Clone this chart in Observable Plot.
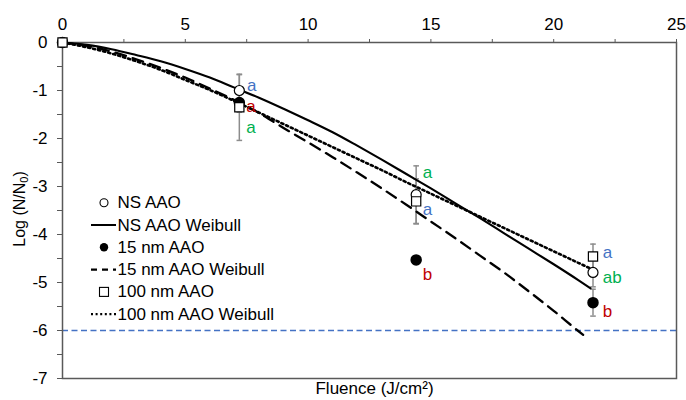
<!DOCTYPE html>
<html>
<head>
<meta charset="utf-8">
<script src="https://cdn.jsdelivr.net/npm/d3@7"></script>
<script src="https://cdn.jsdelivr.net/npm/@observablehq/plot@0.6"></script>
<style>
  body { margin: 0; background: #fff; }
  #chart { position: relative; width: 686px; height: 400px; }
</style>
</head>
<body>
<div id="chart"></div>
<script>
// ---- measured data ----
const fluence = [0, 7.2, 14.4, 21.6];
const nsMean = [0, -1.0, -3.17, -4.79];
const nsErr = [0, 0.33, 0.6, 0.3];
const nm15Mean = [0, -1.25, -4.53, -5.42];
const nm15Err = [0, 0.2, 0.08, 0.28];
const nm100Mean = [0, -1.35, -3.31, -4.46];
const nm100Err = [0, 0.69, 0.47, 0.26];

// Weibull fit curves
const nsFitF = [0,1,2,3,4,5,6,7,8,9,10,11,12,13,14,15,16,17,18,19,20,21,21.5];
const nsFitY = [0,-0.05,-0.14,-0.26,-0.39,-0.55,-0.73,-0.94,-1.15,-1.38,-1.62,-1.87,-2.15,-2.44,-2.74,-3.04,-3.35,-3.66,-3.98,-4.30,-4.62,-4.95,-5.12];
const nm15FitF = [0,1,2,3,4,5,6,7,8,9,10,11,12,13,14,15,16,17,18,19,20,21,21.2];
const nm15FitY = [0,-0.07,-0.19,-0.35,-0.53,-0.73,-0.96,-1.20,-1.47,-1.78,-2.08,-2.39,-2.71,-3.04,-3.38,-3.73,-4.08,-4.44,-4.80,-5.19,-5.59,-6.01,-6.09];
const nm100FitF = [0,1,2,3,4,5,6,7,8,9,10,11,12,13,14,15,16,17,18,19,20,21,21.46];
const nm100FitY = [0,-0.10,-0.23,-0.39,-0.57,-0.78,-0.99,-1.22,-1.46,-1.70,-1.94,-2.18,-2.42,-2.66,-2.91,-3.15,-3.39,-3.63,-3.87,-4.11,-4.35,-4.59,-4.70];

const detectionLimit = -6;

// significance letters
const letterText = ["a","a","a","a","a","b","a","ab","b"];
const letterF = [7.51,7.48,7.48,14.67,14.67,14.67,22.0,22.0,22.0];
const letterY = [-0.9,-1.33,-1.78,-2.71,-3.49,-4.84,-4.38,-4.9,-5.6];
const letterColor = ["blue","red","green","green","blue","red","blue","green","red"];

const xTicks = [0, 2.5, 5, 7.5, 10, 12.5, 15, 17.5, 20, 22.5, 25];
const yTicks = [-7, -6.5, -6, -5.5, -5, -4.5, -4, -3.5, -3, -2.5, -2, -1.5, -1, -0.5, 0];

const legendLabels = ["NS AAO", "NS AAO Weibull", "15 nm AAO", "15 nm AAO Weibull", "100 nm AAO", "100 nm AAO Weibull"];

// ---- tables ----
const pts = (means, errs) => fluence.map((f, i) => ({F: f, y: means[i], e: errs[i]}));
const ns = pts(nsMean, nsErr), n15 = pts(nm15Mean, nm15Err), n100 = pts(nm100Mean, nm100Err);
const allPts = [...ns, ...n15, ...n100].filter(d => d.e > 0);
const fit = (F, Y) => F.map((f, i) => ({F: f, y: Y[i]}));
const letters = letterText.map((t, i) => ({t, F: letterF[i], y: letterY[i], c: letterColor[i]}));
const colorMap = {blue: "#4472C4", red: "#C00000", green: "#00B050"};

const capSymbol = { draw(ctx) { ctx.moveTo(-2.8, 0); ctx.lineTo(2.8, 0); } };
const axisColor = "#595959";
const errColor = "#8c8c8c";
const font = "'Liberation Sans', Arial, sans-serif";

const plot = Plot.plot({
  width: 686,
  height: 400,
  marginLeft: 62,
  marginRight: 10,
  marginTop: 42,
  marginBottom: 22,
  style: {fontSize: "17px", fontFamily: font, color: "black", background: "white"},
  x: {domain: [0, 25]},
  y: {domain: [-7, 0]},
  marks: [
    Plot.ruleY([detectionLimit], {stroke: "#4472C4", strokeWidth: 1.6, strokeDasharray: "6,3.5"}),
    Plot.frame({stroke: axisColor, strokeWidth: 1.5}),
    Plot.axisX({anchor: "top", ticks: xTicks, tickSize: 4, tickPadding: 9, stroke: axisColor, fill: "black", fontSize: 17,
      tickFormat: d => d % 5 === 0 ? String(d) : "", label: null}),
    Plot.axisY({anchor: "left", ticks: yTicks, tickSize: 5, tickPadding: 10, stroke: axisColor, fill: "black", fontSize: 17,
      tickFormat: d => Number.isInteger(d) ? String(d) : "", label: null}),
    // error bars
    Plot.ruleX(allPts, {x: "F", y1: d => d.y - d.e, y2: d => d.y + d.e, stroke: errColor, strokeWidth: 1.5}),
    Plot.dot(allPts, {x: "F", y: d => d.y + d.e, symbol: capSymbol, stroke: errColor, strokeWidth: 1.5}),
    Plot.dot(allPts, {x: "F", y: d => d.y - d.e, symbol: capSymbol, stroke: errColor, strokeWidth: 1.5}),
    // fits
    Plot.line(fit(nsFitF, nsFitY), {x: "F", y: "y", stroke: "black", strokeWidth: 2.1, curve: "monotone-x"}),
    Plot.line(fit(nm15FitF, nm15FitY), {x: "F", y: "y", stroke: "black", strokeWidth: 2.3, strokeDasharray: "11,7", curve: "monotone-x"}),
    Plot.line(fit(nm100FitF, nm100FitY), {x: "F", y: "y", stroke: "black", strokeWidth: 2.6, strokeDasharray: "2.2,3", curve: "monotone-x"}),
    // points
    Plot.dot(n15, {x: "F", y: "y", r: 5, fill: "black", stroke: "black"}),
    Plot.dot(ns, {x: "F", y: "y", r: 5, fill: "white", stroke: "black", strokeWidth: 1.2}),
    Plot.dot(n100, {x: "F", y: "y", r: 5.2, symbol: "square", fill: "white", stroke: "black", strokeWidth: 1.2}),
    // letters
    Plot.text(letters, {x: "F", y: "y", text: "t", fill: d => colorMap[d.c], textAnchor: "start", fontSize: 17}),
    // x title
    Plot.text(["Fluence (J/cm²)"], {frameAnchor: "bottom", dy: 15, dx: 5, fontSize: 17, fill: "black"})
  ]
});

document.getElementById("chart").appendChild(plot);

const svg = d3.select(plot);
// y title with subscript
const yt = svg.append("text")
  .attr("transform", "translate(21,209) rotate(-90)")
  .attr("text-anchor", "middle")
  .attr("dominant-baseline", "middle")
  .attr("font-size", 16)
  .attr("font-family", font)
  .attr("fill", "black");
yt.append("tspan").text("Log (N/N");
yt.append("tspan").text("0").attr("font-size", 11).attr("dy", 4);
yt.append("tspan").text(")").attr("dy", -4);

// legend (inside plot area)
const lg = svg.append("g").attr("font-family", font).attr("font-size", 17).attr("text-anchor", "start");
legendLabels.forEach((lab, i) => {
  const cy = 202.7 + 22.3 * i;
  const g = lg.append("g").attr("transform", `translate(0,${cy})`);
  if (i === 0) g.append("circle").attr("cx", 104).attr("cy", 0).attr("r", 4).attr("fill", "white").attr("stroke", "black").attr("stroke-width", 1.1);
  if (i === 2) g.append("circle").attr("cx", 104).attr("cy", 0).attr("r", 4.2).attr("fill", "black");
  if (i === 4) g.append("rect").attr("x", 99.5).attr("y", -4.5).attr("width", 9).attr("height", 9).attr("fill", "white").attr("stroke", "black").attr("stroke-width", 1.1);
  if (i === 1) g.append("line").attr("x1", 91).attr("x2", 116).attr("stroke", "black").attr("stroke-width", 2);
  if (i === 3) g.append("line").attr("x1", 91).attr("x2", 116).attr("stroke", "black").attr("stroke-width", 2.2).attr("stroke-dasharray", "6,5");
  if (i === 5) g.append("line").attr("x1", 91).attr("x2", 117).attr("stroke", "black").attr("stroke-width", 2.2).attr("stroke-dasharray", "2,2.6");
  g.append("text").attr("x", 117.5).attr("y", 0).attr("dominant-baseline", "central").attr("text-anchor", "start").attr("fill", "black").text(lab);
});
</script>
</body>
</html>
